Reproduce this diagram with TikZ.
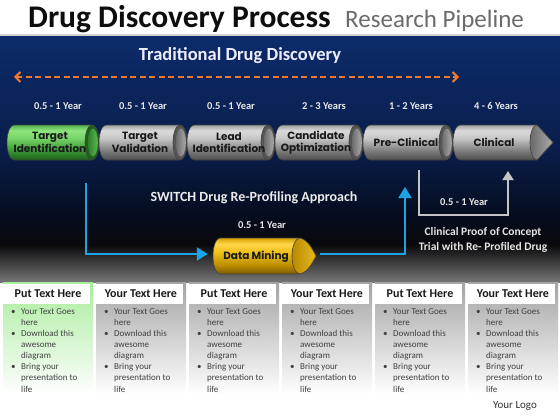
\documentclass[tikz,border=0pt]{standalone}
\usepackage{fontspec}
\setmainfont{Carlito}
\newfontfamily\popf{Poppins}
\usetikzlibrary{arrows.meta}

\definecolor{navyA}{HTML}{0C2B6A}
\definecolor{navyB}{HTML}{0A1E4C}
\definecolor{navyC}{HTML}{050C1E}
\definecolor{darkD}{HTML}{0A0A0C}
\definecolor{greyE}{HTML}{767676}
\definecolor{orangeL}{HTML}{F07A28}
\definecolor{blueL}{HTML}{1EA4E4}
\definecolor{greyL}{HTML}{C4C4C4}
\definecolor{yeartxt}{HTML}{E8E8E8}
\definecolor{bodytxt}{HTML}{404040}
\definecolor{titlegrey}{HTML}{6B6B6B}
\definecolor{colgn}{HTML}{A8EC9C}
\definecolor{colgy}{HTML}{A4A4A4}
% grey cylinder
\definecolor{gy0}{HTML}{4C4C4C}
\definecolor{gy1}{HTML}{7C7C7C}
\definecolor{gy2}{HTML}{C6C6C6}
\definecolor{gy3}{HTML}{DADADA}
\definecolor{gy4}{HTML}{A0A0A0}
\definecolor{gyA}{HTML}{555555}
\definecolor{gyB}{HTML}{6A6A6A}
\definecolor{gyC}{HTML}{ABABAB}
% green cylinder
\definecolor{gn0}{HTML}{1C5E1A}
\definecolor{gn1}{HTML}{389432}
\definecolor{gn2}{HTML}{76D468}
\definecolor{gn3}{HTML}{8EE47E}
\definecolor{gn4}{HTML}{58B44C}
\definecolor{gnA}{HTML}{1E601C}
\definecolor{gnB}{HTML}{2E7E2A}
\definecolor{gnC}{HTML}{5CB850}
% gold cylinder
\definecolor{gd0}{HTML}{7E5A00}
\definecolor{gd1}{HTML}{BE9000}
\definecolor{gd2}{HTML}{F0C21C}
\definecolor{gd3}{HTML}{FFD648}
\definecolor{gd4}{HTML}{D4A000}
\definecolor{gdA}{HTML}{8A6400}
\definecolor{gdB}{HTML}{B88A00}
\definecolor{gdC}{HTML}{E8B820}

\pgfdeclareverticalshading{cylgy}{100bp}{color(0bp)=(gy0); color(25bp)=(gy0); color(38bp)=(gy1); color(56bp)=(gy2); color(67bp)=(gy3); color(75bp)=(gy4); color(100bp)=(gy4)}
\pgfdeclareverticalshading{cylgn}{100bp}{color(0bp)=(gn0); color(25bp)=(gn0); color(38bp)=(gn1); color(56bp)=(gn2); color(67bp)=(gn3); color(75bp)=(gn4); color(100bp)=(gn4)}
\pgfdeclareverticalshading{cylgd}{100bp}{color(0bp)=(gd0); color(25bp)=(gd0); color(38bp)=(gd1); color(56bp)=(gd2); color(67bp)=(gd3); color(75bp)=(gd4); color(100bp)=(gd4)}

\tikzset{
  cylline/.style={draw=black!75, line width=0.6pt},
  cyltext/.style={font=\popf\bfseries\fontsize{10.5}{12.5}\selectfont, text=black!90, align=center, inner sep=0pt},
  yearlbl/.style={font=\bfseries\fontsize{10.5}{12}\selectfont, text=yeartxt, inner sep=0pt},
  bluearrow/.style={draw=blueL, line width=2.2pt, -{Triangle[length=11pt,width=13pt]}},
  greyarrow/.style={draw=greyL, line width=1.8pt, -{Triangle[length=9pt,width=11pt]}},
  hdr/.style={font=\bfseries\fontsize{12}{14}\selectfont, text=black!90, inner sep=0pt},
  bodyt/.style={font=\fontsize{9}{11}\selectfont, text=bodytxt, inner sep=0pt},
}

\newcommand\DCcyl[4]{%
  \pgfmathsetmacro\DCa{#1+7}\pgfmathsetmacro\DCb{#2-7}%
  \pgfmathsetmacro\DCt{#3-17.5}\pgfmathsetmacro\DCu{#3+17.5}%
  \path[cylline, shade, shading=cyl#4] (\DCa,\DCt) -- (\DCb,\DCt) arc[start angle=90,end angle=-90,x radius=7pt,y radius=17.5pt] -- (\DCa,\DCu) arc[start angle=270,end angle=90,x radius=7pt,y radius=17.5pt] -- cycle;
  \path[cylline, fill=#4A] (\DCb,#3) ellipse[x radius=7pt,y radius=17.5pt];
  \shade[left color=#4B, right color=#4C] (\DCb+0.8,#3) ellipse[x radius=5pt,y radius=14pt];
}

\begin{document}
\begin{tikzpicture}[x=1pt,y=-1pt]
\useasboundingbox (0,0) rectangle (560,420);
% backgrounds
\fill[white] (0,0) rectangle (560,420);
\fill[gray!35] (0,34) rectangle (560,37);
\shade[top color=navyA, bottom color=navyB] (0,37) rectangle (560,150.5);
\shade[top color=navyB, bottom color=navyC] (0,150) rectangle (560,215.5);
\shade[top color=navyC, bottom color=darkD] (0,215) rectangle (560,245.5);
\shade[top color=darkD, bottom color=greyE] (0,245) rectangle (560,282);

% title
\node[anchor=base west, inner sep=0pt, font=\bfseries\fontsize{31.5}{34}\selectfont, text=black!95] (title) at (28,28) {Drug Discovery Process};
\node[anchor=base west, inner sep=0pt, font=\fontsize{25}{28}\selectfont, text=titlegrey] (subtitle) at (345,28) {Research Pipeline};

% traditional
\node[inner sep=0pt, font=\bfseries\fontsize{18.5}{22}\selectfont, text=white!93!blue] (trad) at (240,56) {Traditional Drug Discovery};
\coordinate (o1) at (14,77);
\coordinate (o2) at (459,77);
\draw[orangeL, line width=2.2pt, dash pattern=on 6pt off 3.5pt, {Straight Barb[length=5pt,width=10pt,line width=2pt]}-{Straight Barb[length=5pt,width=10pt,line width=2pt]}] (o1) -- (o2);

% year labels
\node[yearlbl] (y1) at (58,106) {0.5 - 1 Year};
\node[yearlbl] (y2) at (143,106) {0.5 - 1 Year};
\node[yearlbl] (y3) at (231,106) {0.5 - 1 Year};
\node[yearlbl] (y4) at (324,106) {2 - 3 Years};
\node[yearlbl] (y5) at (411,106) {1 - 2 Years};
\node[yearlbl] (y6) at (496,106) {4 - 6 Years};

% pipeline
\DCcyl{7}{99}{142.5}{gn}
\DCcyl{99}{187}{142.5}{gy}
\DCcyl{187}{275}{142.5}{gy}
\DCcyl{275}{363}{142.5}{gy}
\DCcyl{363}{453}{142.5}{gy}
\path[cylline, shade, shading=cylgy] (460,125) -- (537,125) -- (553,142.5) -- (537,160) -- (460,160) arc[start angle=270,end angle=90,x radius=7pt,y radius=17.5pt] -- cycle;
\shade[left color=gyB, right color=gyC] (537,125) arc[start angle=90,end angle=270,x radius=7pt,y radius=17.5pt] -- (553,142.5) -- cycle;
\draw[cylline] (537,125) arc[start angle=90,end angle=270,x radius=7pt,y radius=17.5pt] -- (553,142.5) -- cycle;

\node[cyltext] (n1) at (50,142.5) {Target\\Identification};
\node[cyltext] (n2) at (140,142.5) {Target\\Validation};
\node[cyltext] (n3) at (229,142.5) {Lead\\Identification};
\node[cyltext] (n4) at (316,142.5) {Candidate\\Optimization};
\node[cyltext] (n5) at (406,142.5) {Pre-Clinical};
\node[cyltext] (n6) at (494,142.5) {Clinical};

% switch approach
\node[inner sep=0pt, font=\bfseries\fontsize{14}{16}\selectfont, text=white!92!black] (sw) at (254,198) {SWITCH Drug Re-Profiling Approach};
\node[yearlbl] (y7) at (262,225) {0.5 - 1 Year};

% data mining cylinder
\path[cylline, shade, shading=cylgd] (220,238) -- (300,238) .. controls (308,240) and (313,250) .. (316,256) .. controls (313,262) and (308,272) .. (300,274) -- (220,274) arc[start angle=270,end angle=90,x radius=7pt,y radius=18pt] -- cycle;
\shade[left color=gdB, right color=gdC] (300,238) arc[start angle=90,end angle=270,x radius=8pt,y radius=18pt] .. controls (308,272) and (313,262) .. (316,256) .. controls (313,250) and (308,240) .. (300,238) -- cycle;
\draw[cylline] (300,238) arc[start angle=90,end angle=270,x radius=8pt,y radius=18pt] .. controls (308,272) and (313,262) .. (316,256) .. controls (313,250) and (308,240) .. (300,238);
\node[inner sep=0pt, minimum width=103pt, minimum height=36pt] (dmbox) at (264.5,256) {};
\node[cyltext] (dm) at (256,257) {Data Mining};

% blue connectors
\coordinate (b1) at (86,183);
\coordinate (b2) at (405,187);
\draw[bluearrow] (b1) |- ([xshift=-5pt,yshift=2pt]dmbox.west);
\draw[bluearrow] ([xshift=4pt,yshift=2pt]dmbox.east) -| (b2);

% grey connector
\coordinate (g1) at (419,170);
\coordinate (gc) at (463,215);
\coordinate (g2) at (508,171);
\draw[greyarrow] (g1) |- (gc) -| (g2);
\node[yearlbl] (y8) at (464,202) {0.5 - 1 Year};
\node[inner sep=0pt, align=center, font=\bfseries\fontsize{11.5}{15}\selectfont, text=white!90!black] (cp) at (483,239.5) {Clinical Proof of Concept\\Trial with Re- Profiled Drug};

% columns
\foreach \cx/\hd/\clr [count=\i] in {3/Put Text Here/colgn, 96/Your Text Here/colgy, 189/Put Text Here/colgy, 282/Your Text Here/colgy, 375/Put Text Here/colgy, 468/Your Text Here/colgy}{
  \shade[top color=\clr, bottom color=white] (\cx,282) rectangle (\cx+90,394);
  \fill[white] (\cx,284) rectangle (\cx+87,304);
  \node[hdr] (h\i) at (\cx+45,293.5) {\hd};
  \foreach \ln [count=\k from 0] in {Your Text Goes, here, Download this, awesome, diagram, Bring your, presentation to, life}{
    \node[bodyt, anchor=base west] (t\i-\k) at (\cx+18, 314+11.15*\k) {\ln};
  }
  \foreach \k in {0,2,5}{
    \node[bodyt, anchor=base west] (u\i-\k) at (\cx+8, 314+11.15*\k) {•};
  }
}
\node[inner sep=0pt, font=\fontsize{11}{13}\selectfont, text=black!80] (logo) at (515,406) {Your Logo};
\end{tikzpicture}
\end{document}
